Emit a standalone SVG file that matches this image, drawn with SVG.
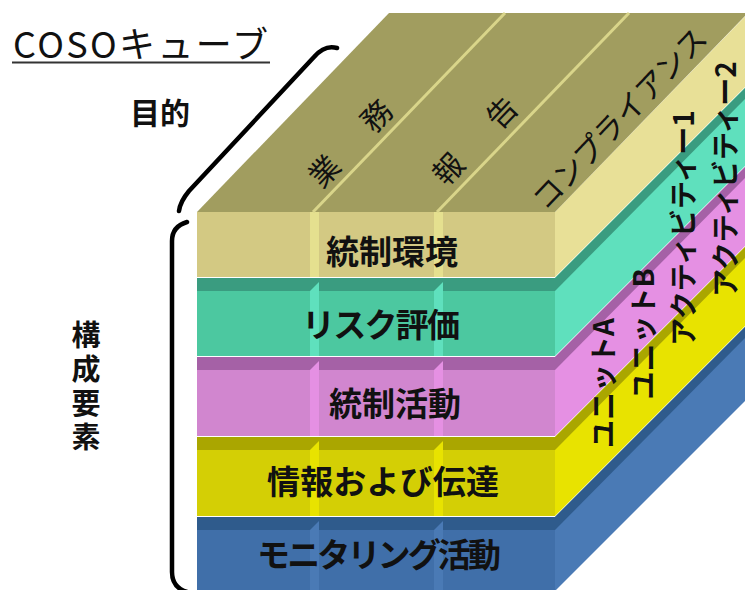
<svg xmlns="http://www.w3.org/2000/svg" width="745" height="590" viewBox="0 0 745 590">
<style>
text{font-family:"Noto Sans CJK JP","Noto Sans",sans-serif;fill:#111}
.lbl{font-size:33px;font-weight:bold;text-anchor:middle;dominant-baseline:central}
.top{font-size:30px;text-anchor:middle;dominant-baseline:central}
.side{font-size:28px;font-weight:bold;text-anchor:middle;dominant-baseline:central}
.hd{font-size:30px;font-weight:bold;text-anchor:middle;dominant-baseline:central}
.br{fill:none;stroke:#000;stroke-width:4.5;stroke-linecap:round;stroke-linejoin:round}
</style>
<rect width="745" height="590" fill="#fff"/>

<g id="title">
<text x="13" y="58" font-size="36" textLength="255" lengthAdjust="spacing">COSOキューブ</text>
<line x1="12" y1="62.5" x2="270" y2="62.5" stroke="#333" stroke-width="2"/>
</g>
<g id="label-mokuteki"><text class="hd" x="160" y="111">目的</text></g>
<g id="label-kosei">
<text x="86" y="320" font-size="29" font-weight="bold" writing-mode="vertical-rl" letter-spacing="5">構成要素</text>
</g>

<g id="connectors">
<path class="br" d="M337,48 C327,45 320,50 314,57 L189,191 C184,197 180,203 179,211"/>
<path class="br" d="M187,222 C177,225 172,231 172,241 L172,572 C172,583 177,589 187,592"/>
</g>

<g id="layer-monitoring">
<polygon points="555,517 750,322 750,396 555,591" fill="#4a7ab5"/>
<polygon points="555,517 750,322 750,333 555,530" fill="#2f5b8c"/>
<rect x="197" y="517" width="358" height="74" fill="#406fa9"/>
<rect x="197" y="517" width="358" height="13" fill="#2f5b8c"/>
<polygon points="310,530 319,521 319,591 310,591" fill="#4a7ab5"/>
<polygon points="434,530 443,521 443,591 434,591" fill="#4a7ab5"/>
<text class="lbl" x="379" y="553" textLength="244" lengthAdjust="spacing">モニタリング活動</text>
</g>

<g id="layer-info">
<polygon points="555,437 750,242 750,321 555,516" fill="#e8e300"/>
<polygon points="555,437 750,242 750,253 555,450" fill="#aaa600"/>
<rect x="197" y="437" width="358" height="79" fill="#d4cf05"/>
<rect x="197" y="437" width="358" height="13" fill="#aaa600"/>
<polygon points="310,450 319,441 319,516 310,516" fill="#e8e300"/>
<polygon points="434,450 443,441 443,516 434,516" fill="#e8e300"/>
<text class="lbl" x="383" y="480" textLength="232" lengthAdjust="spacing">情報および伝達</text>
</g>

<g id="layer-activities">
<polygon points="555,357 750,162 750,241 555,436" fill="#e590e3"/>
<polygon points="555,357 750,162 750,173 555,370" fill="#a561a6"/>
<rect x="197" y="357" width="358" height="79" fill="#d186cf"/>
<rect x="197" y="357" width="358" height="13" fill="#a561a6"/>
<polygon points="310,370 319,361 319,436 310,436" fill="#e590e3"/>
<polygon points="434,370 443,361 443,436 434,436" fill="#e590e3"/>
<text class="lbl" x="395" y="402">統制活動</text>
</g>

<g id="layer-risk">
<polygon points="555,278 750,83 750,161 555,356" fill="#5fe0bd"/>
<polygon points="555,278 750,83 750,94 555,291" fill="#3a9c80"/>
<rect x="197" y="278" width="358" height="78" fill="#4cc8a0"/>
<rect x="197" y="278" width="358" height="13" fill="#3a9c80"/>
<polygon points="310,291 319,282 319,356 310,356" fill="#5fe0bd"/>
<polygon points="434,291 443,282 443,356 434,356" fill="#5fe0bd"/>
<text class="lbl" x="381" y="323" textLength="158" lengthAdjust="spacing">リスク評価</text>
</g>

<g id="layer-environment">
<polygon points="555,212 760,1 760,72 555,277" fill="#e8e097"/>
<rect x="197" y="212" width="358" height="65" fill="#d3c983"/>
<rect x="310" y="212" width="9" height="65" fill="#e5e08f"/>
<rect x="434" y="212" width="9" height="65" fill="#e5e08f"/>
<text class="lbl" x="392" y="250">統制環境</text>
</g>

<g id="top-face">
<polygon points="197,212 389,13 748,13 555,212" fill="#a19d5f"/>
<line x1="313" y1="212" x2="505" y2="13" stroke="#d9d58a" stroke-width="3"/>
<line x1="437" y1="212" x2="629" y2="13" stroke="#d9d58a" stroke-width="3"/>
<text class="top" transform="translate(349,142) rotate(-46.5)" x="4" letter-spacing="8">業　務</text>
<text class="top" transform="translate(474,139) rotate(-46.5)" x="4" letter-spacing="9">報　告</text>
<text class="top" transform="translate(618,117) rotate(-46.5)">コンプライアンス</text>
</g>

<g id="side-labels">
<text class="side" transform="translate(602,383) rotate(-90)">ユニットA</text>
<text class="side" transform="translate(642,334) rotate(-90)">ユニットB</text>
<text class="side" transform="translate(682,228) rotate(-90)">アクティビティー1</text>
<text class="side" transform="translate(724,179) rotate(-90)">アクティビティー2</text>
</g>
</svg>
